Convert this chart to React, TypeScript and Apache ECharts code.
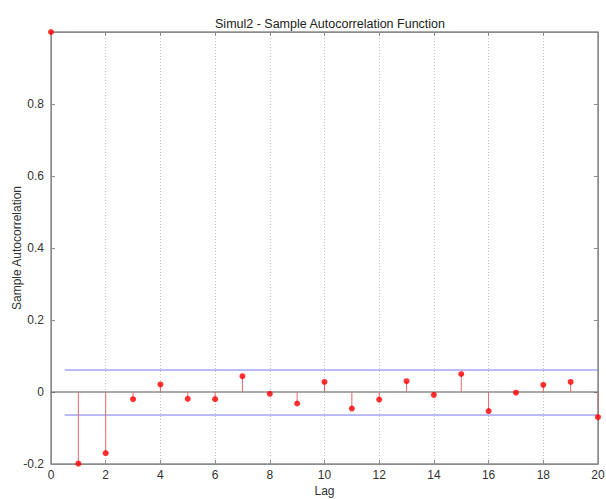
import React, { useEffect, useRef } from "react";
import * as echarts from "echarts";

const lags = [0, 1, 2, 3, 4, 5, 6, 7, 8, 9, 10, 11, 12, 13, 14, 15, 16, 17, 18, 19, 20];
const acf = [1, -0.199, -0.17, -0.02, 0.021, -0.019, -0.02, 0.044, -0.005, -0.032, 0.028, -0.046, -0.021, 0.03, -0.008, 0.05, -0.053, -0.002, 0.02, 0.028, -0.07];
const upperBound = 0.061;
const lowerBound = -0.064;
const boundStart = 0.5;
const yTicks = [-0.2, 0, 0.2, 0.4, 0.6, 0.8, 1];

export default function App() {
  const ref = useRef<HTMLDivElement>(null);
  useEffect(() => {
    if (!ref.current) return;
    const chart = echarts.init(ref.current, undefined, { renderer: "svg" });
    const font = "Liberation Sans, Arial, sans-serif";
    const pts = lags.map((l, i) => [l, acf[i]]);
    const x0 = lags[0];
    const x1 = lags[lags.length - 1];
    const y0 = yTicks[0];
    const y1 = yTicks[yTicks.length - 1];
    const boxColor = "#8c8c8c";
    const mkLine = () => ({ show: true, onZero: false, lineStyle: { color: boxColor, width: 1 } });
    const mkTick = () => ({ show: true, inside: true, length: 4, lineStyle: { color: boxColor } });
    chart.setOption({
      animation: false,
      backgroundColor: "#fff",
      title: {
        text: "Simul2 - Sample Autocorrelation Function",
        left: 325,
        top: 12,
        textAlign: "center",
        textStyle: { fontFamily: font, fontSize: 12.5, fontWeight: "normal", color: "#222" },
      },
      grid: {
        left: 51, right: 8, top: 32, bottom: 35,
        outerBoundsMode: "none", containLabel: false,
        show: true, borderColor: boxColor, borderWidth: 1, backgroundColor: "transparent",
      },
      xAxis: [
        {
          type: "value", min: x0, max: x1, interval: 2,
          name: "Lag", nameLocation: "middle", nameGap: 21, nameMoveOverlap: false,
          nameTextStyle: { fontFamily: font, fontSize: 12, color: "#333" },
          axisLine: mkLine(), axisTick: mkTick(),
          axisLabel: { fontFamily: font, fontSize: 12, color: "#333", margin: 5 },
          splitLine: { show: true, lineStyle: { color: "#c4c4c4", type: [1, 2], width: 1 } },
        },
        {
          type: "value", min: x0, max: x1, interval: 2, position: "top",
          axisLine: mkLine(), axisTick: mkTick(),
          axisLabel: { show: false },
          splitLine: { show: false },
        },
      ],
      yAxis: [
        {
          type: "value", min: y0, max: y1, interval: 0.2,
          name: "Sample Autocorrelation", nameLocation: "middle", nameGap: 28, nameMoveOverlap: false,
          nameTextStyle: { fontFamily: font, fontSize: 12, color: "#333" },
          axisLine: mkLine(), axisTick: mkTick(),
          axisLabel: {
            fontFamily: font, fontSize: 12, color: "#333", margin: 7,
            formatter: (v: number) => {
              const t = yTicks.find((y) => Math.abs(y - v) < 1e-6);
              if (t === undefined || Math.abs(t - 1) < 1e-6) return "";
              return Math.abs(t) < 1e-9 ? "0" : String(Math.round(t * 10) / 10);
            },
          },
          splitLine: { show: false },
        },
        {
          type: "value", min: y0, max: y1, interval: 0.2, position: "right",
          axisLine: mkLine(), axisTick: mkTick(),
          axisLabel: { show: false },
          splitLine: { show: false },
        },
      ],
      series: [
        {
          type: "line",
          data: [[x0, 0], [x1, 0]],
          symbol: "none",
          lineStyle: { color: "#555", width: 1 },
          silent: true,
          z: 2,
        },
        {
          type: "line",
          data: [[boundStart, upperBound], [x1, upperBound]],
          symbol: "none",
          lineStyle: { color: "#7878ee", width: 1 },
          silent: true,
          z: 2,
        },
        {
          type: "line",
          data: [[boundStart, lowerBound], [x1, lowerBound]],
          symbol: "none",
          lineStyle: { color: "#7878ee", width: 1 },
          silent: true,
          z: 2,
        },
        {
          type: "custom",
          data: pts,
          clip: false,
          z: 3,
          renderItem: (params: any, api: any) => {
            const x = api.value(0);
            const y = api.value(1);
            if (x === lags[0]) return null; // stem at lag 0 lies under the left axis line
            const p0 = api.coord([x, 0]);
            const p1 = api.coord([x, y]);
            return {
              type: "line",
              shape: { x1: p0[0], y1: p0[1], x2: p1[0], y2: p1[1] },
              style: { stroke: "#e06a6a", lineWidth: 1 },
            };
          },
        },
        {
          type: "line",
          data: [[x0, y0], [x1, y0], [x1, y1], [x0, y1], [x0, y0]],
          symbol: "none",
          lineStyle: { color: boxColor, width: 1 },
          clip: false,
          silent: true,
          z: 3,
        },
        {
          type: "scatter",
          data: pts,
          symbol: "circle",
          symbolSize: 6,
          itemStyle: { color: "#ff0000" },
          clip: false,
          z: 4,
        },
      ],
    });
    return () => chart.dispose();
  }, []);
  return (
    <div
      ref={ref}
      style={{ position: "absolute", left: 0, top: 0, width: 606, height: 499 }}
    />
  );
}
